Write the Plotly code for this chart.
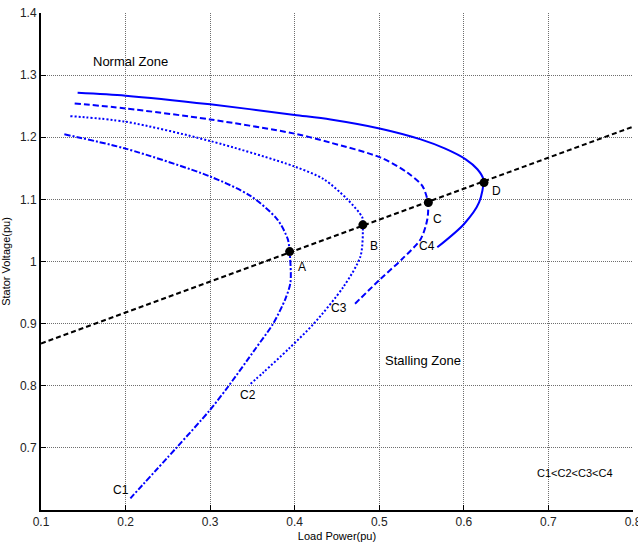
import plotly.graph_objects as go

# ---- data ----
c4_x = [0.1433, 0.2, 0.3, 0.4, 0.4424, 0.5016, 0.549, 0.578, 0.6022, 0.616, 0.623, 0.618, 0.600, 0.5686]
c4_y = [1.2716, 1.267, 1.253, 1.236, 1.2286, 1.2138, 1.1966, 1.1817, 1.1645, 1.1485, 1.1324, 1.095, 1.060, 1.0228]

c3_x = [0.1398, 0.2, 0.3, 0.4, 0.4424, 0.5016, 0.5331, 0.5509, 0.5575, 0.5568, 0.5489, 0.527, 0.5015, 0.469]
c3_y = [1.2544, 1.2464, 1.2287, 1.2058, 1.1913, 1.1673, 1.1432, 1.1217, 1.095, 1.068, 1.036, 1.004, 0.972, 0.929]

c2_x = [0.1347, 0.2, 0.3, 0.4, 0.4345, 0.4621, 0.4799, 0.4806, 0.4779, 0.458, 0.4226, 0.393, 0.3634, 0.3457]
c2_y = [1.234, 1.225, 1.194, 1.1528, 1.1324, 1.1003, 1.071, 1.060, 1.009, 0.960, 0.900, 0.8596, 0.822, 0.8006]

c1_x = [0.1276, 0.2, 0.3, 0.3477, 0.3793, 0.3918, 0.394, 0.395, 0.389, 0.3745, 0.3536, 0.322, 0.2995, 0.260, 0.2057]
c1_y = [1.2047, 1.1817, 1.1368, 1.1056, 1.068, 1.036, 1.016, 0.9666, 0.940, 0.900, 0.8596, 0.800, 0.7605, 0.700, 0.6188]

load_x = [0.1, 0.8]
load_y = [0.868, 1.217]

pts_x = [0.394, 0.4806, 0.558, 0.6238]
pts_y = [1.016, 1.059, 1.095, 1.127]
pts_lbl = ["A", "B", "C", "D"]
pts_lbl_x = [0.409, 0.494, 0.569, 0.639]
pts_lbl_y = [0.991, 1.025, 1.068, 1.114]

curve_lbl = ["C1", "C2", "C3", "C4"]
curve_lbl_x = [0.194, 0.345, 0.452, 0.556]
curve_lbl_y = [0.632, 0.785, 0.925, 1.025]

x_ticks = [0.1, 0.2, 0.3, 0.4, 0.5, 0.6, 0.7, 0.8]
y_ticks = [0.7, 0.8, 0.9, 1.0, 1.1, 1.2, 1.3, 1.4]
y_ticktext = ["0.7", "0.8", "0.9", "1", "1.1", "1.2", "1.3", "1.4"]

BLUE = "#0000ff"
FONT = "Liberation Sans, Arial, sans-serif"

fig = go.Figure()
fig.add_trace(go.Scatter(x=c4_x, y=c4_y, mode="lines", line=dict(color=BLUE, width=2, shape="spline", smoothing=0.8)))
fig.add_trace(go.Scatter(x=c3_x, y=c3_y, mode="lines", line=dict(color=BLUE, width=2, dash="6px,3px", shape="spline", smoothing=0.8)))
fig.add_trace(go.Scatter(x=c2_x, y=c2_y, mode="lines", line=dict(color=BLUE, width=2, dash="2px,2px", shape="spline", smoothing=0.8)))
fig.add_trace(go.Scatter(x=c1_x, y=c1_y, mode="lines", line=dict(color=BLUE, width=2, dash="6px,2px,2px,2px", shape="spline", smoothing=0.8)))
fig.add_trace(go.Scatter(x=load_x, y=load_y, mode="lines", line=dict(color="black", width=2, dash="5px,3px")))
fig.add_trace(go.Scatter(x=pts_x, y=pts_y, mode="markers", marker=dict(color="black", size=9)))

for t, x, y in zip(pts_lbl + curve_lbl, pts_lbl_x + curve_lbl_x, pts_lbl_y + curve_lbl_y):
    fig.add_annotation(x=x, y=y, text=t, showarrow=False, font=dict(size=12, color="black", family=FONT))

fig.add_annotation(x=0.2057, y=1.322, text="Normal Zone", showarrow=False, font=dict(size=13, color="black", family=FONT))
fig.add_annotation(x=0.552, y=0.84, text="Stalling Zone", showarrow=False, font=dict(size=13, color="black", family=FONT))
fig.add_annotation(x=0.732, y=0.659, text="C1<C2<C3<C4", showarrow=False, font=dict(size=11, color="black", family=FONT))

fig.update_layout(
    width=638, height=546,
    margin=dict(l=41, r=5, t=13, b=36),
    paper_bgcolor="white", plot_bgcolor="white",
    showlegend=False,
    font=dict(family=FONT, size=12, color="black"),
)
fig.update_xaxes(
    range=[0.1, 0.8], tickvals=x_ticks, ticktext=[str(v) for v in x_ticks],
    showgrid=True, gridcolor="#6e6e6e", griddash="1px,1px", gridwidth=1,
    showline=True, linecolor="black", linewidth=2, ticks="inside", ticklen=5, tickcolor="black",
    zeroline=False, tickfont=dict(size=12, color="#222"), ticklabeloverflow="allow", automargin=False,
    title=dict(text="Load Power(pu)", font=dict(size=11), standoff=4),
)
fig.update_yaxes(
    range=[0.6, 1.4], tickvals=y_ticks, ticktext=y_ticktext,
    showgrid=True, gridcolor="#6e6e6e", griddash="1px,1px", gridwidth=1,
    showline=True, linecolor="black", linewidth=2, ticks="inside", ticklen=5, tickcolor="black",
    zeroline=False, tickfont=dict(size=12, color="#222"), ticklabeloverflow="allow", automargin=False,
    title=dict(text="Stator Voltage(pu)", font=dict(size=11), standoff=8),
)

fig.write_html("out.html")
